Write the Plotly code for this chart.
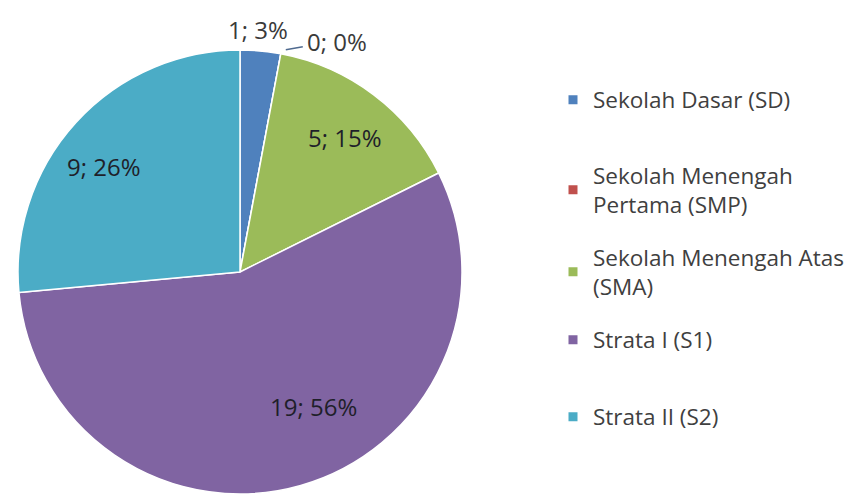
import math
import plotly.graph_objects as go

# ---- data ----
categories = ["Sekolah Dasar (SD)", "Sekolah Menengah Pertama (SMP)",
              "Sekolah Menengah Atas (SMA)", "Strata I (S1)", "Strata II (S2)"]
legend_labels = ["Sekolah Dasar (SD)", "Sekolah Menengah<br>Pertama (SMP)",
                 "Sekolah Menengah Atas<br>(SMA)", "Strata I (S1)", "Strata II (S2)"]
values = [1, 0, 5, 19, 9]

# ---- style ----
colors = ["#4F81BD", "#C0504D", "#9BBB59", "#8064A2", "#4BACC6"]
W, H = 858, 495
CX, CY, R = 240, 272, 222           # pie centre / radius in pixels
FONT = "Open Sans"
label_r = [None, None, 0.77, 0.69, 0.777]    # inside label radius fractions
label_dang = [0, 0, 0.8, -13.0, -4.5]        # angle tweak (deg) for inside labels
outside_shift = {0: (-2, 21), 1: (56, 12)}   # pixel shifts for outside labels
legend_y_px = [100, 190, 272, 340, 417]
legend_x_px = 553

fig = go.Figure()
fig.add_trace(go.Pie(
    labels=categories, values=values, sort=False, direction="clockwise",
    rotation=0, textinfo="none", hoverinfo="label+value+percent",
    marker=dict(colors=colors, line=dict(color="white", width=1.5)),
    showlegend=False,
    domain=dict(x=[(CX - R) / W, (CX + R) / W], y=[1 - (CY + R) / H, 1 - (CY - R) / H]),
))

total = sum(values)
cum = 0
anns = []
shapes = []
for i, v in enumerate(values):
    frac = v / total
    mid = (cum + frac / 2) * 2 * math.pi
    cum += frac
    txt = f"{v}; {round(frac * 100)}%"
    if label_r[i] is not None:
        a = mid + math.radians(label_dang[i])
        px = CX + R * label_r[i] * math.sin(a)
        py = CY - R * label_r[i] * math.cos(a)
        anns.append(dict(x=px / W, y=1 - py / H, xref="paper", yref="paper",
                         xanchor="center", yanchor="middle",
                         text=txt, showarrow=False,
                         font=dict(family=FONT, size=24, color="#1f1f2a")))
    else:
        ex = CX + R * math.sin(mid)
        ey = CY - R * math.cos(mid)
        dx, dy = outside_shift[i]
        anns.append(dict(x=ex / W, y=1 - ey / H, xref="paper", yref="paper",
                         xanchor="center", yanchor="middle",
                         text=txt, showarrow=False, xshift=dx, yshift=dy,
                         font=dict(family=FONT, size=24, color="#3a3a3a")))
        if v == 0:
            shapes.append(dict(type="line", xref="paper", yref="paper",
                               x0=(ex + 5) / W, y0=1 - (ey - 4) / H,
                               x1=(ex + 22) / W, y1=1 - (ey - 7) / H,
                               line=dict(color="#4F6A8F", width=1.5)))

# legend via per-item dummy traces so each entry can be placed like the original
for i, (lab, col) in enumerate(zip(legend_labels, colors)):
    lname = "legend" if i == 0 else f"legend{i + 1}"
    fig.add_trace(go.Scatter(x=[None], y=[None], mode="markers", name=lab,
                             marker=dict(symbol="square", size=9, color=col),
                             legend=lname, showlegend=True, hoverinfo="skip"))

layout_legends = {}
for i in range(len(categories)):
    lname = "legend" if i == 0 else f"legend{i + 1}"
    layout_legends[lname] = dict(x=legend_x_px / W, y=1 - legend_y_px[i] / H,
                                 xanchor="left", yanchor="middle",
                                 bgcolor="rgba(0,0,0,0)",
                                 font=dict(family=FONT, size=22.5, color="#404040"))

fig.update_layout(
    width=W, height=H, margin=dict(l=0, r=0, t=0, b=0),
    paper_bgcolor="white", plot_bgcolor="white",
    xaxis=dict(visible=False), yaxis=dict(visible=False),
    annotations=anns, shapes=shapes,
    **layout_legends,
)
fig.write_html("out.html", config={"displayModeBar": False},
               post_script="document.body.style.margin='0';")
